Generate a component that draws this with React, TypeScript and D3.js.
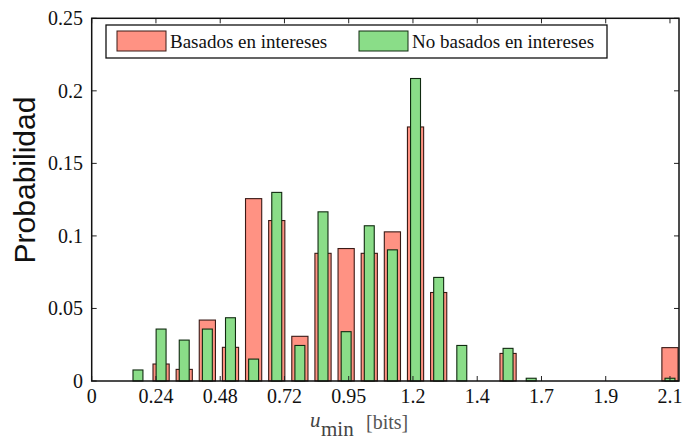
import React from "react";
import * as d3 from "d3";

const binStep = 2.1465 / 25;
const binIndex = [2,3,4,5,6,7,8,9,10,11,12,13,14,15,16,17,18,19,20,21,22,23,24,25];
const basados = [0,0.0117,0.008,0.042,0.0232,0.1257,0.1106,0.0308,0.088,0.0913,0.088,0.1028,0.1751,0.061,0,0,0.019,0,0,0,0,0,0,0.023];
const noBasados = [0.0076,0.0358,0.0282,0.0358,0.0436,0.0151,0.130,0.0245,0.1166,0.034,0.107,0.0904,0.2085,0.0714,0.0245,0,0.0225,0.0019,0,0,0,0,0,0.0019];
const xTickValues = [0,1,2,3,4,5,6,7,8,9].map(k => k * 2.1465 / 9);
const xTickLabels = ["0","0.24","0.48","0.72","0.95","1.2","1.4","1.7","1.9","2.1"];
const yTickValues = [0,0.05,0.1,0.15,0.2,0.25];
const yTickLabels = ["0","0.05","0.1","0.15","0.2","0.25"];
const seriesNames = ["Basados en intereses","No basados en intereses"];

const W = 684, H = 441;
const left = 91.7, right = 679, top = 18.3, bottom = 381;
const RED = "#FF9283";
const GREEN = "#8ADD88";
const SERIF = "'Liberation Serif', 'Times New Roman', serif";

export default function App() {
  const x = d3.scaleLinear().domain([0, 2.18]).range([left, right]);
  const y = d3.scaleLinear().domain([0, 0.25]).range([bottom, top]);
  const centers = binIndex.map(k => k * binStep);
  const redW = x(binStep * 0.7) - x(0);
  const greenW = x(binStep * 0.43) - x(0);
  const tl = 5;
  return (
    <svg width={W} height={H} style={{ position: "absolute", left: 0, top: 0, background: "#fff" }}>
      <rect x={0} y={0} width={W} height={H} fill="#fff" />
      {centers.map((c, i) => basados[i] > 0 ? (
        <rect key={"r" + i} x={x(c) - redW / 2} y={y(basados[i])} width={redW} height={y(0) - y(basados[i])}
          fill={RED} stroke="#3a1a16" strokeWidth={1.1} />
      ) : null)}
      {centers.map((c, i) => noBasados[i] > 0 ? (
        <rect key={"g" + i} x={x(c) - greenW / 2} y={y(noBasados[i])} width={greenW} height={y(0) - y(noBasados[i])}
          fill={GREEN} stroke="#102a10" strokeWidth={1.1} />
      ) : null)}
      {xTickValues.map((v, i) => (
        <g key={"xt" + i}>
          <line x1={x(v)} x2={x(v)} y1={bottom} y2={bottom - tl} stroke="#222" strokeWidth={1} />
          <line x1={x(v)} x2={x(v)} y1={top} y2={top + tl} stroke="#222" strokeWidth={1} />
          <text x={x(v)} y={bottom + 22} textAnchor="middle" fontFamily={SERIF} fontSize={20} fill="#111">{xTickLabels[i]}</text>
        </g>
      ))}
      {yTickValues.map((v, i) => (
        <g key={"yt" + i}>
          <line x1={left} x2={left + tl} y1={y(v)} y2={y(v)} stroke="#222" strokeWidth={1} />
          <line x1={right} x2={right - tl} y1={y(v)} y2={y(v)} stroke="#222" strokeWidth={1} />
          <text x={83} y={y(v) + 7} textAnchor="end" fontFamily={SERIF} fontSize={20} fill="#111">{yTickLabels[i]}</text>
        </g>
      ))}
      <rect x={left} y={top} width={right - left} height={bottom - top} fill="none" stroke="#111" strokeWidth={1.5} />
      <rect x={106} y={25} width={501} height={33} fill="#fff" stroke="#111" strokeWidth={1.3} />
      <rect x={117} y={31} width={49} height={20} fill={RED} stroke="#3a1a16" strokeWidth={1} />
      <text x={170} y={48} fontFamily={SERIF} fontSize={19} fill="#111">{seriesNames[0]}</text>
      <rect x={359} y={31} width={49} height={20} fill={GREEN} stroke="#102a10" strokeWidth={1} />
      <text x={412} y={48} fontFamily={SERIF} fontSize={19} fill="#111">{seriesNames[1]}</text>
      <text transform={`translate(35, 180) rotate(-90)`} textAnchor="middle" fontFamily="'Liberation Sans', Arial, sans-serif" fontSize={30} fill="#111">Probabilidad</text>
      <text x={310} y={427} fontFamily={SERIF} fontStyle="italic" fontSize={21} fill="#444">u</text>
      <text x={321} y={436} fontFamily={SERIF} fontSize={21} fill="#444">min</text>
      <text x={366} y={429} fontFamily={SERIF} fontSize={20} fill="#555">[bits]</text>
    </svg>
  );
}
